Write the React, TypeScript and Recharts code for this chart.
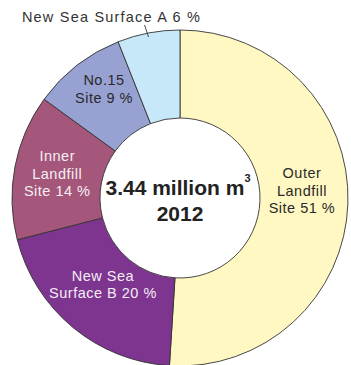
import React from 'react';
import { PieChart, Pie, Cell } from 'recharts';

const sites = ['Outer Landfill Site', 'New Sea Surface B', 'Inner Landfill Site', 'No.15 Site', 'New Sea Surface A'];
const shares = [51, 20, 14, 9, 6];
const labelLines = [
  ['Outer', 'Landfill', 'Site 51 %'],
  ['New Sea', 'Surface B 20 %'],
  ['Inner', 'Landfill', 'Site 14 %'],
  ['No.15', 'Site 9 %'],
  ['New Sea Surface A 6 %'],
];
const totalLabel = '3.44 million m';
const yearLabel = '2012';

const colors = ['#FFF8C2', '#7E3590', '#A4577B', '#97A2D3', '#C7E8F8'];
const textColors = ['#2a2a2a', '#F4ECF4', '#F6EEF2', '#2a2a2a', '#2a2a2a'];
const nudges: [number, number][] = [[-2, -11], [2, -9], [-1, -1], [0, -11], [0, 0]];

const data = sites.map((name, i) => ({ name, value: shares[i] }));

const RAD = Math.PI / 180;
const FONT = '"Liberation Sans", Arial, sans-serif';

const renderLabel = (props: any) => {
  const { cx, cy, midAngle, innerRadius, outerRadius, index } = props;
  const lines = labelLines[index];
  const elems: React.ReactNode[] = [];
  if (index === 4) {
    const ox = cx + outerRadius * Math.cos(-midAngle * RAD);
    const oy = cy + outerRadius * Math.sin(-midAngle * RAD);
    elems.push(
      <line key="ll" x1={ox} y1={oy + 4} x2={ox - 4} y2={oy - 8} stroke="#333" strokeWidth={0.9} />
    );
    elems.push(
      <text key="t" x={ox - 37} y={oy - 16} textAnchor="middle" dominantBaseline="central"
        fontFamily={FONT} fontSize={14.5} letterSpacing={1.2} fill="#333">{lines[0]}</text>
    );
  } else {
    const r = (innerRadius + outerRadius) / 2;
    const x = cx + r * Math.cos(-midAngle * RAD) + nudges[index][0];
    const y = cy + r * Math.sin(-midAngle * RAD) + nudges[index][1];
    const lh = 17.5;
    elems.push(
      <text key="t" textAnchor="middle" fontFamily={FONT} fontSize={14.5} letterSpacing={0.5} fill={textColors[index]}>
        {lines.map((ln, i) => (
          <tspan key={i} x={x} y={y + (i - (lines.length - 1) / 2) * lh} dominantBaseline="central">{ln}</tspan>
        ))}
      </text>
    );
  }
  if (index === 0) {
    elems.push(
      <text key="c1" x={cx - 2} y={cy - 11} textAnchor="middle" dominantBaseline="central"
        fontFamily={FONT} fontSize={21} fontWeight="bold" fill="#222">
        {totalLabel}
        <tspan fontSize={11} dy={-9}>3</tspan>
      </text>
    );
    elems.push(
      <text key="c2" x={cx} y={cy + 15} textAnchor="middle" dominantBaseline="central"
        fontFamily={FONT} fontSize={21} fontWeight="bold" fill="#222">{yearLabel}</text>
    );
  }
  return <g>{elems}</g>;
};

export default function App() {
  return (
    <div style={{ position: 'absolute', left: 0, top: 0, width: 351, height: 365, background: '#fff' }}>
      <PieChart width={351} height={365} margin={{ top: 0, right: 0, bottom: 0, left: 0 }}>
        <Pie
          data={data}
          dataKey="value"
          nameKey="name"
          cx={180}
          cy={198}
          innerRadius={80}
          outerRadius={168}
          startAngle={90}
          endAngle={-270}
          stroke="#333"
          strokeWidth={0.9}
          label={renderLabel}
          labelLine={false}
          isAnimationActive={false}
        >
          {data.map((d, i) => (
            <Cell key={d.name} fill={colors[i]} />
          ))}
        </Pie>
      </PieChart>
    </div>
  );
}
